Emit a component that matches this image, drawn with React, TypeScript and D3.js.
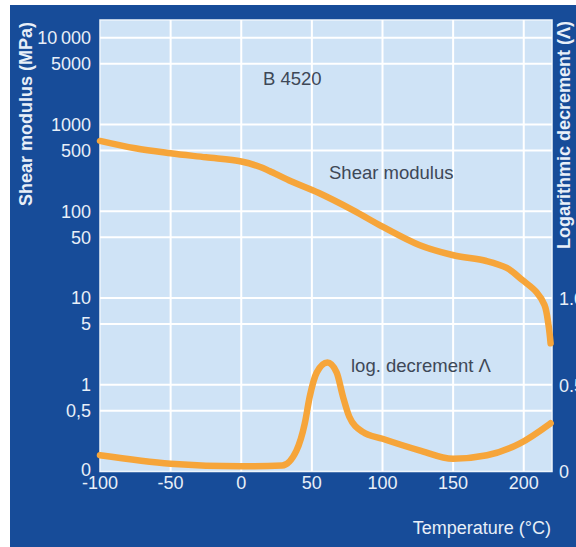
import React from "react";
import * as d3 from "d3";

// Temperature axis
const tempTicks = [-100, -50, 0, 50, 100, 150, 200];

// Shear modulus axis (log), labelled with the decimal comma
const modulusTicks = [0.1, 0.5, 1, 5, 10, 50, 100, 500, 1000, 5000, 10000];
const modulusLabels = ["0", "0,5", "1", "5", "10", "50", "100", "500", "1000", "5000", "10\u2009000"];

// Logarithmic decrement axis (linear)
const decrementTicks = [0, 0.5, 1.0];
const decrementLabels = ["0", "0.5", "1.0"];

// Shear modulus G (MPa) vs temperature (°C)
const modulusTemp = [-100, -75, -50, -25, 0, 13, 20, 34, 55, 79, 100, 126, 149.5, 173.5, 188, 199, 209, 214.7, 217.5, 219];
const modulusValue = [646, 531, 466, 418, 374, 326, 291, 226, 162, 103, 66.4, 40.8, 31.3, 26.7, 22.2, 16.1, 11.7, 8.3, 4.9, 3.0];

// Logarithmic decrement Λ vs temperature (°C)
const decrementTemp = [-100, -50, 0, 29, 39, 45, 48.5, 53.5, 61, 67.5, 72, 76.5, 86, 100, 126, 150, 174, 197, 219];
const decrementValue = [0.094, 0.045, 0.03, 0.035, 0.12, 0.28, 0.435, 0.575, 0.632, 0.575, 0.435, 0.318, 0.23, 0.19, 0.123, 0.074, 0.094, 0.162, 0.28];

const W = 576;
const H = 547;
const plot = { left: 100, right: 552, top: 20, bottom: 471.5 };

const FONT = "'Liberation Sans', Arial, Helvetica, sans-serif";
const BG = "#174c99";
const PANEL = "#cfe3f6";
const CURVE = "#f6a53a";
const LABEL = "#e8eff8";
const INK = "#3e4857";

export default function App() {
  const x = d3.scaleLinear().domain([-100, 220]).range([plot.left, plot.right]);
  const yG = d3.scaleLog().domain([0.1, 16000]).range([plot.bottom, plot.top]);
  const yL = d3.scaleLinear().domain([0, 2.62]).range([plot.bottom, plot.top]);

  const modulusLine = d3
    .line<number>()
    .x((_, i) => x(modulusTemp[i]))
    .y((d) => yG(d))
    .curve(d3.curveCatmullRom.alpha(0.5));

  const decrementLine = d3
    .line<number>()
    .x((_, i) => x(decrementTemp[i]))
    .y((d) => yL(d))
    .curve(d3.curveMonotoneX);

  return (
    <svg
      width={W}
      height={H}
      style={{ position: "fixed", left: 0, top: 0, display: "block", background: "#fff" }}
    >
      <rect x={10} y={5} width={W - 10} height={H - 5} fill={BG} />
      <rect
        x={plot.left}
        y={plot.top}
        width={plot.right - plot.left}
        height={plot.bottom - plot.top}
        fill={PANEL}
        stroke="#eef5fc"
        strokeWidth={1.5}
      />

      {/* grid */}
      <g stroke="#ffffff" strokeWidth={2}>
        {tempTicks.slice(1).map((t) => (
          <line key={"v" + t} x1={x(t)} x2={x(t)} y1={plot.top} y2={plot.bottom} />
        ))}
        {modulusTicks.slice(1).map((v) => (
          <line key={"h" + v} x1={plot.left} x2={plot.right} y1={yG(v)} y2={yG(v)} />
        ))}
      </g>

      {/* curves */}
      <path d={modulusLine(modulusValue) ?? ""} fill="none" stroke={CURVE} strokeWidth={6.5} strokeLinecap="round" />
      <path d={decrementLine(decrementValue) ?? ""} fill="none" stroke={CURVE} strokeWidth={6.5} strokeLinecap="round" />

      {/* left axis labels */}
      <g fontFamily={FONT} fontSize={18} fill={LABEL} textAnchor="end">
        {modulusTicks.map((v, i) => (
          <text key={v} x={91} y={yG(v) - (i === 0 ? 2 : 0)} dy="0.35em">
            {modulusLabels[i]}
          </text>
        ))}
      </g>

      {/* right axis labels */}
      <g fontFamily={FONT} fontSize={18} fill={LABEL} textAnchor="start">
        {decrementTicks.map((v, i) => (
          <text key={v} x={559} y={yL(v)} dy="0.35em">
            {decrementLabels[i]}
          </text>
        ))}
      </g>

      {/* bottom axis labels */}
      <g fontFamily={FONT} fontSize={18} fill={LABEL} textAnchor="middle">
        {tempTicks.map((t) => (
          <text key={t} x={x(t)} y={489}>
            {t}
          </text>
        ))}
      </g>

      {/* axis titles */}
      <text
        transform="translate(32,22) rotate(-90)"
        textAnchor="end"
        fontFamily={FONT}
        fontSize={18}
        fontWeight="bold"
        fill={LABEL}
      >
        Shear modulus (MPa)
      </text>
      <text
        transform="translate(570,21) rotate(-90)"
        textAnchor="end"
        fontFamily={FONT}
        fontSize={18}
        fontWeight="bold"
        fill={LABEL}
      >
        Logarithmic decrement (Λ)
      </text>
      <text x={551} y={534} textAnchor="end" fontFamily={FONT} fontSize={18} fill={LABEL}>
        Temperature (°C)
      </text>

      {/* annotations */}
      <g fontFamily={FONT} fontSize={18.5} fill={INK}>
        <text x={263} y={85}>B 4520</text>
        <text x={329} y={179}>Shear modulus</text>
        <text x={351} y={372}>log. decrement Λ</text>
      </g>
    </svg>
  );
}
